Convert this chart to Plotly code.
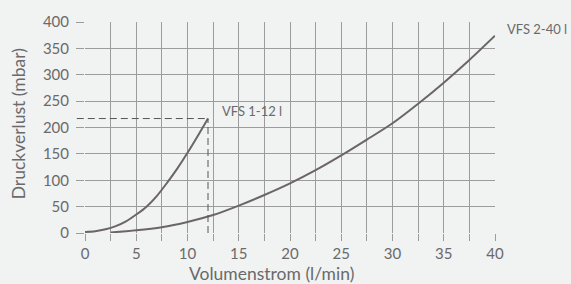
import plotly.graph_objects as go

# VFS 1-12 l curve
x_small = [0, 1, 2, 3, 4, 5, 6, 7, 8, 9, 10, 11, 12]
y_small = [2, 3.5, 7, 13, 22, 35, 50, 70, 95, 122, 152, 184, 217]

# VFS 2-40 l curve
x_large = [2.5, 5, 7.5, 10, 12.5, 15, 17.5, 20, 22.5, 25, 27.5, 30, 32.5, 35, 37.5, 40]
y_large = [1, 5, 11, 21, 34, 52, 72, 94, 119, 147, 177, 208, 245, 285, 328, 374]

label_small = "VFS 1-12 l"
label_large = "VFS 2-40 l"
x_title = "Volumenstrom (l/min)"
y_title = "Druckverlust (mbar)"
max_small = (12, 217)

FONT = "Lato"
TXT = "#6a6a6a"
GRID = "#9c9c9c"
LINE = "#6b6567"
BG = "#f1f2f2"

fig = go.Figure()
fig.add_trace(go.Scatter(x=x_small, y=y_small, mode="lines",
                         line=dict(color=LINE, width=2, shape="spline", smoothing=0.8),
                         hoverinfo="skip", showlegend=False))
fig.add_trace(go.Scatter(x=x_large, y=y_large, mode="lines",
                         line=dict(color=LINE, width=2, shape="spline", smoothing=0.8),
                         hoverinfo="skip", showlegend=False))

xr = [0, 40]
yr = [0, 400]
px_paper = max_small[0] / xr[1]
py_paper = max_small[1] / yr[1]
dash = dict(color="#555555", width=1, dash="7px,4px")
fig.add_shape(type="line", xref="paper", yref="paper", x0=-0.02, x1=px_paper,
              y0=py_paper, y1=py_paper, line=dash)
fig.add_shape(type="line", xref="paper", yref="paper", x0=px_paper, x1=px_paper,
              y0=0, y1=py_paper, line=dash)

fig.add_annotation(x=13.2, y=231, xref="x", yref="y", text=label_small, showarrow=False,
                   xanchor="left", yanchor="middle", font=dict(family=FONT, size=13, color=TXT))
fig.add_annotation(x=1.025, y=0.965, xref="paper", yref="paper", text=label_large, showarrow=False,
                   xanchor="left", yanchor="middle", font=dict(family=FONT, size=13, color=TXT))
fig.add_annotation(x=0.456, y=-0.19, xref="paper", yref="paper", text=x_title, showarrow=False,
                   xanchor="center", yanchor="middle", font=dict(family=FONT, size=17.5, color=TXT))
fig.add_annotation(x=-0.163, y=0.516, xref="paper", yref="paper", text=y_title, showarrow=False,
                   textangle=-90, xanchor="center", yanchor="middle",
                   font=dict(family=FONT, size=17.5, color=TXT))

fig.update_xaxes(range=xr, dtick=5, tick0=0, showgrid=True, gridcolor=GRID, gridwidth=1,
                 ticks="outside", ticklen=7, tickcolor=GRID, tickwidth=1,
                 minor=dict(dtick=2.5, tick0=0, showgrid=True, gridcolor=GRID, gridwidth=1,
                            ticks="outside", ticklen=7, tickcolor=GRID, tickwidth=1),
                 zeroline=False, showline=False,
                 tickfont=dict(family=FONT, size=15, color=TXT), fixedrange=True)
fig.update_yaxes(range=yr, dtick=50, tick0=0, showgrid=True, gridcolor=GRID, gridwidth=1,
                 ticks="outside", ticklen=8, tickcolor=GRID, tickwidth=1,
                 zeroline=False, showline=False, ticklabelstandoff=4,
                 tickfont=dict(family=FONT, size=15, color=TXT), fixedrange=True)

fig.update_layout(width=571, height=284, margin=dict(l=85, r=76, t=20, b=51),
                  paper_bgcolor=BG, plot_bgcolor=BG, showlegend=False)

fig.write_html("out.html", config={"displayModeBar": False},
               post_script="document.body.style.margin='0';document.body.style.background='#f1f2f2';")
